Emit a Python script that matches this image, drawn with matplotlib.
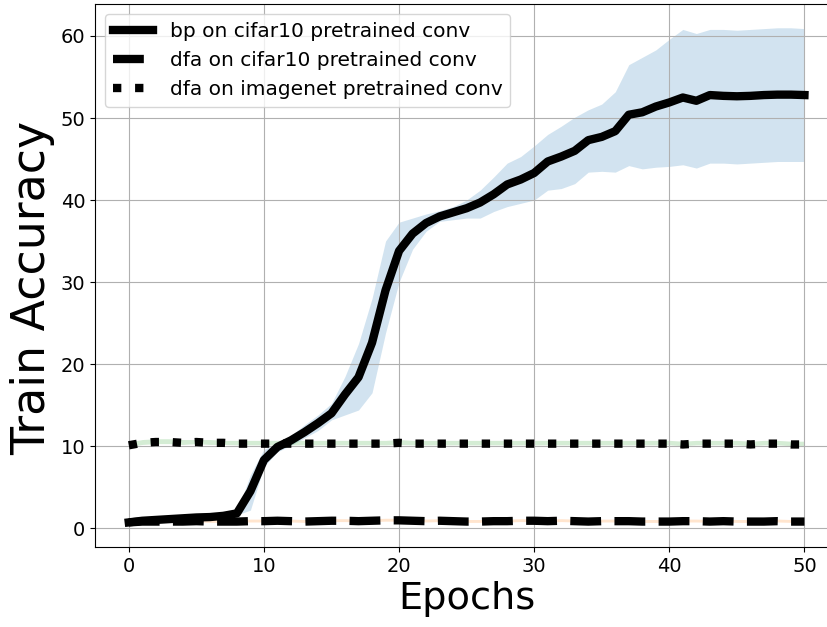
import matplotlib
matplotlib.use("Agg")
import matplotlib.pyplot as plt
import numpy as np

epochs = list(range(51))

bp_mean = [0.7, 0.9, 1.0, 1.1, 1.2, 1.3, 1.35, 1.5, 1.8, 4.5,
           8.3, 9.9, 10.7, 11.7, 12.8, 14.0, 16.3, 18.4, 22.6, 29.0,
           33.8, 35.9, 37.2, 38.0, 38.5, 39.0, 39.7, 40.7, 41.9, 42.5,
           43.3, 44.7, 45.3, 46.0, 47.3, 47.7, 48.4, 50.4, 50.7, 51.4,
           51.9, 52.5, 52.1, 52.8, 52.7, 52.65, 52.7, 52.8, 52.85, 52.85, 52.8]
bp_upper = [0.9, 1.0, 1.1, 1.2, 1.3, 1.4, 1.45, 1.6, 2.0, 6.5,
            9.6, 10.3, 11.3, 12.6, 13.8, 15.2, 18.5, 22.5, 28.0, 35.0,
            37.3, 37.8, 38.3, 38.7, 39.2, 40.0, 41.2, 42.8, 44.5, 45.3,
            46.6, 48.0, 49.0, 50.1, 51.0, 51.7, 53.2, 56.5, 57.4, 58.3,
            59.6, 60.8, 60.3, 60.8, 60.8, 60.7, 60.8, 60.9, 61.0, 61.0, 60.9]
bp_lower = [0.5, 0.8, 0.9, 1.0, 1.1, 1.2, 1.25, 1.4, 1.6, 2.2,
            7.5, 9.3, 10.1, 11.0, 11.9, 13.2, 13.8, 14.4, 16.5, 23.8,
            30.0, 34.0, 36.2, 37.4, 37.6, 37.8, 37.8, 38.6, 39.2, 39.6,
            40.0, 41.2, 41.4, 42.0, 43.4, 43.5, 43.4, 44.2, 43.8, 44.0,
            44.1, 44.3, 43.9, 44.5, 44.5, 44.4, 44.5, 44.6, 44.7, 44.7, 44.7]

dfa_c10_mean = [0.7, 0.8, 0.8, 0.8, 0.8, 0.85, 0.8, 0.8, 0.8, 0.85,
                0.85, 0.9, 0.85, 0.8, 0.85, 0.9, 0.9, 0.85, 0.9, 0.95,
                0.95, 0.9, 0.85, 0.9, 0.85, 0.8, 0.8, 0.85, 0.85, 0.9,
                0.9, 0.85, 0.9, 0.85, 0.8, 0.85, 0.85, 0.85, 0.8, 0.8,
                0.8, 0.85, 0.85, 0.8, 0.85, 0.8, 0.8, 0.8, 0.85, 0.8, 0.8]
dfa_c10_upper = [1.0, 1.05, 1.05, 1.05, 1.05, 1.1, 1.05, 1.05, 1.05, 1.1,
                 1.1, 1.15, 1.1, 1.05, 1.1, 1.15, 1.15, 1.1, 1.15, 1.2,
                 1.2, 1.15, 1.1, 1.15, 1.1, 1.05, 1.05, 1.1, 1.1, 1.15,
                 1.15, 1.1, 1.15, 1.1, 1.05, 1.1, 1.1, 1.1, 1.05, 1.05,
                 1.05, 1.1, 1.1, 1.05, 1.1, 1.05, 1.05, 1.05, 1.1, 1.05, 1.05]
dfa_c10_lower = [0.6, 0.7, 0.7, 0.7, 0.7, 0.75, 0.7, 0.7, 0.7, 0.75,
                 0.75, 0.8, 0.75, 0.7, 0.75, 0.8, 0.8, 0.75, 0.8, 0.85,
                 0.85, 0.8, 0.75, 0.8, 0.75, 0.7, 0.7, 0.75, 0.75, 0.8,
                 0.8, 0.75, 0.8, 0.75, 0.7, 0.75, 0.75, 0.75, 0.7, 0.7,
                 0.7, 0.75, 0.75, 0.7, 0.75, 0.7, 0.7, 0.7, 0.75, 0.7, 0.7]

dfa_in_mean = [10.1, 10.4, 10.5, 10.5, 10.4, 10.5, 10.4, 10.4, 10.3, 10.3,
               10.3, 10.3, 10.3, 10.3, 10.3, 10.3, 10.3, 10.3, 10.3, 10.3,
               10.4, 10.3, 10.3, 10.3, 10.3, 10.3, 10.3, 10.3, 10.3, 10.3,
               10.3, 10.3, 10.3, 10.3, 10.3, 10.3, 10.3, 10.3, 10.3, 10.3,
               10.3, 10.2, 10.3, 10.3, 10.3, 10.3, 10.2, 10.3, 10.3, 10.2, 10.2]
dfa_in_upper = [10.5, 10.8, 10.9, 10.9, 10.8, 10.8, 10.8, 10.7, 10.7, 10.7,
                10.7, 10.7, 10.7, 10.7, 10.7, 10.7, 10.7, 10.7, 10.7, 10.7,
                10.8, 10.7, 10.7, 10.7, 10.7, 10.7, 10.7, 10.7, 10.7, 10.7,
                10.7, 10.7, 10.7, 10.7, 10.7, 10.7, 10.7, 10.7, 10.7, 10.7,
                10.7, 10.6, 10.7, 10.7, 10.7, 10.7, 10.6, 10.7, 10.7, 10.6, 10.6]
dfa_in_lower = [9.95, 10.2, 10.3, 10.3, 10.2, 10.3, 10.2, 10.2, 10.15, 10.15,
                10.15, 10.15, 10.15, 10.15, 10.15, 10.15, 10.15, 10.15, 10.15, 10.15,
                10.2, 10.15, 10.15, 10.15, 10.15, 10.15, 10.15, 10.15, 10.15, 10.15,
                10.15, 10.15, 10.15, 10.15, 10.15, 10.15, 10.15, 10.15, 10.15, 10.15,
                10.15, 10.05, 10.15, 10.15, 10.15, 10.15, 10.05, 10.15, 10.15, 10.05, 10.05]

labels = ["bp on cifar10 pretrained conv",
          "dfa on cifar10 pretrained conv",
          "dfa on imagenet pretrained conv"]

fig = plt.figure(figsize=(8.28, 6.27), dpi=100)
ax = fig.add_axes([95 / 828, 80 / 627, (838.25 - 95) / 828, (547 - 4) / 627])

lw = 6
ax.plot(epochs, bp_mean, color="black", linestyle="-", linewidth=lw, label=labels[0])
ax.fill_between(epochs, bp_lower, bp_upper, color="tab:blue", alpha=0.2, linewidth=0)
ax.plot(epochs, dfa_c10_mean, color="black", linestyle="--", linewidth=lw, label=labels[1])
ax.fill_between(epochs, dfa_c10_lower, dfa_c10_upper, color="tab:orange", alpha=0.2, linewidth=0)
ax.plot(epochs, dfa_in_mean, color="black", linestyle=":", linewidth=lw, label=labels[2])
ax.fill_between(epochs, dfa_in_lower, dfa_in_upper, color="tab:green", alpha=0.2, linewidth=0)

ax.set_xlim(-2.5, 52.5)
ax.set_ylim(-2.3, 63.9)
ax.set_xticks([0, 10, 20, 30, 40, 50])
ax.set_yticks([0, 10, 20, 30, 40, 50, 60])
ax.tick_params(labelsize=14)
ax.grid(True)
ax.set_xlabel("Epochs", fontsize=27.5)
ax.set_ylabel("Train Accuracy", fontsize=33)
ax.yaxis.label.set_y(0.478)
ax.legend(loc="upper left", fontsize=14.5)

fig.savefig("out.png", dpi=100)
